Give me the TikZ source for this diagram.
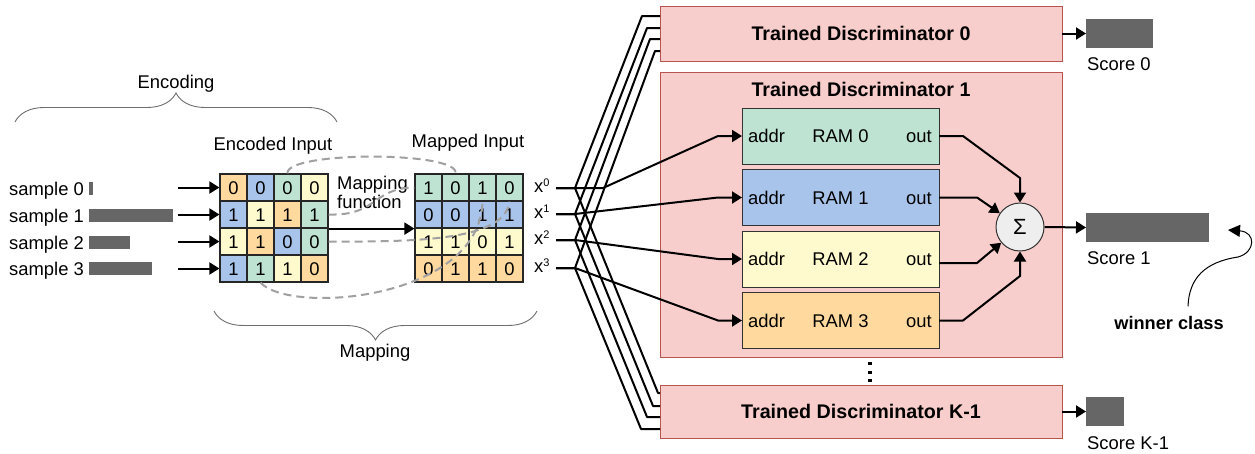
\documentclass[tikz,border=0pt]{standalone}
\usepackage{fontspec}
\setmainfont{Liberation Sans}
\usetikzlibrary{arrows.meta,decorations.pathreplacing}

\definecolor{cG}{RGB}{190,227,210}
\definecolor{cB}{RGB}{169,196,235}
\definecolor{cY}{RGB}{255,250,205}
\definecolor{cO}{RGB}{255,217,158}
\definecolor{discfill}{RGB}{248,206,204}
\definecolor{discline}{RGB}{184,84,80}
\definecolor{bargray}{RGB}{102,102,102}
\definecolor{dashgray}{RGB}{160,160,160}
\definecolor{bracegray}{RGB}{110,110,110}
\definecolor{sigfill}{RGB}{238,238,238}

\newcommand\fs{\fontsize{18.4}{22}\selectfont}
\newcommand\fbold{\fontsize{19.7}{23}\selectfont\bfseries}
\newcommand\supx[1]{x\raisebox{6pt}{\fontsize{11}{11}\selectfont #1}}

\begin{document}
\begin{tikzpicture}[x=1pt,y=-1pt,
  txt/.style={font=\fs,inner sep=0pt,text height=13pt,text depth=0pt},
  cell/.style={txt,draw=black!85,line width=1.2pt,minimum size=27pt},
  bar/.style={fill=bargray,draw=none,inner sep=0pt,outer sep=0pt},
  disc/.style={draw=discline,fill=discfill,line width=1pt,outer sep=0pt,inner sep=0pt,
               font=\fbold,text height=14pt,text depth=0pt},
  ram/.style={draw=black!80,line width=1pt,outer sep=0pt,inner sep=0pt,
              minimum width=197pt,minimum height=56pt,font=\fs,text height=13pt,text depth=0pt},
  wire/.style={line width=2pt,line join=round},
  arr/.style={-{Triangle[length=10pt,width=12pt]}},
  mapdash/.style={dashgray,line width=2pt,dash pattern=on 8pt off 5pt},
  curly/.style={bracegray,line width=0.9pt,decorate,decoration={brace,amplitude=29pt}},
  dotmark/.style={fill=black,minimum width=4pt,minimum height=3pt,inner sep=0pt}
]
\useasboundingbox (0,0) rectangle (1255,453);
\fill[white] (0,0) rectangle (1255,453);

% ---------- samples ----------
\foreach \i/\y in {0/189,1/216,2/243,3/269}
  \node[txt,anchor=west] (smp\i) at (9,\y) {sample \i};
\node[bar,minimum width=4pt,minimum height=13pt]  (bar0) at (91,188) {};
\node[bar,minimum width=84pt,minimum height=13pt] (bar1) at (131,215.5) {};
\node[bar,minimum width=41pt,minimum height=13pt] (bar2) at (109.5,242.5) {};
\node[bar,minimum width=63pt,minimum height=13pt] (bar3) at (120.5,268.5) {};

% ---------- encoded input grid ----------
\foreach \col/\v [count=\c from 0] in {cO/0,cB/0,cG/0,cY/0}
  \node[cell,fill=\col] (e0\c) at ({233.5+27*\c},187.5) {\v};
\foreach \col/\v [count=\c from 0] in {cB/1,cY/1,cO/1,cG/1}
  \node[cell,fill=\col] (e1\c) at ({233.5+27*\c},214.5) {\v};
\foreach \col/\v [count=\c from 0] in {cY/1,cO/1,cB/0,cG/0}
  \node[cell,fill=\col] (e2\c) at ({233.5+27*\c},241.5) {\v};
\foreach \col/\v [count=\c from 0] in {cB/1,cG/1,cY/1,cO/0}
  \node[cell,fill=\col] (e3\c) at ({233.5+27*\c},268.5) {\v};

% ---------- mapped input grid ----------
\foreach \v [count=\c from 0] in {1,0,1,0}
  \node[cell,fill=cG] (m0\c) at ({428.5+27*\c},187.5) {\v};
\foreach \v [count=\c from 0] in {0,0,1,1}
  \node[cell,fill=cB] (m1\c) at ({428.5+27*\c},214.5) {\v};
\foreach \v [count=\c from 0] in {1,1,0,1}
  \node[cell,fill=cY] (m2\c) at ({428.5+27*\c},241.5) {\v};
\foreach \v [count=\c from 0] in {0,1,1,0}
  \node[cell,fill=cO] (m3\c) at ({428.5+27*\c},268.5) {\v};

% input arrows into the encoded rows
\foreach \r/\y in {0/187.5,1/214.5,2/241.5,3/268.5} {
  \coordinate (in\r) at (178,\y);
  \draw[wire,arr] (in\r) -- (e\r0.west);
}

% ---------- labels and braces ----------
\node[txt] (enclbl) at (176,81.5) {Encoding};
\node[txt] (maplbl) at (375,351) {Mapping};
\node[txt] (enctitle) at (273,144) {Encoded Input};
\node[txt] (maptitle) at (468,141) {Mapped Input};
\node[txt,anchor=west] (mf1) at (337,183) {Mapping};
\node[txt,anchor=west] (mf2) at (337,202) {function};

\draw[curly] (15,122) -- (337,122);
\draw[curly] (537,311) -- (214,311);

% mapping arrow
\draw[wire,arr] (e13.south east) -- (m10.south west);

% mapping function (dashed routes)
\draw[mapdash] (e02.north) .. controls (285,151) and (460,151) .. (m01.north);
\draw[mapdash] (e13.east) .. controls (378,216) and (372,188) .. (m00.west);
\draw[mapdash] (e23.east) .. controls (420,242) and (505,240) .. (m03.south);
\draw[mapdash] (e31.south) .. controls (290,315) and (480,300) .. (m02.south);

% ---------- mapped outputs x^i ----------
\foreach \i/\y in {0/188,1/214,2/240,3/268} {
  \node[txt,anchor=west] (x\i) at (534,{\y-1.8}) {\supx{\i}};
  \coordinate (xo\i) at (556,\y);
  \coordinate (br\i) at (575,\y);
}

% ---------- discriminators ----------
\node[disc,minimum width=402pt,minimum height=55pt] (d0) at (861,33.5) {Trained Discriminator 0};
\node[disc,minimum width=402pt,minimum height=285pt] (d1) at (861,214.5) {};
\node[disc,fill=none,draw=none] (d1title) at (861,89) {Trained Discriminator 1};
\node[disc,minimum width=402pt,minimum height=53pt] (dk) at (861,411.5) {Trained Discriminator K-1};

\foreach \k/\yy in {0/363.3,1/372,2/380.3}
  \node[dotmark] (dot\k) at (870,\yy) {};

% fan-out to discriminator 0 and K-1
\foreach \i/\cx/\cy in {0/642/16,1/647/28,2/650/39,3/655/51}
  \draw[wire] (xo\i) -- (br\i) -- (\cx,\cy) -- (d0.west |- 0,\cy);
\foreach \i/\cx/\cy in {0/658/393,1/653/406,2/647/417,3/641/429}
  \draw[wire] (xo\i) -- (br\i) -- (\cx,\cy) -- (dk.west |- 0,\cy);

% ---------- RAMs ----------
\foreach \i/\col/\y in {0/cG/136,1/cB/197.5,2/cY/259,3/cO/320.5} {
  \node[ram,fill=\col] (ram\i) at (840.5,\y) {RAM \i};
  \node[txt,anchor=west] (addr\i) at (748,\y) {addr};
  \node[txt,anchor=east] (out\i) at (932,\y) {out};
}

\draw[wire,arr] (xo0) -- (603,188) -- (718,136) -- (ram0.west);
\draw[wire,arr] (xo1) -- (br1) -- (718,197.5) -- (ram1.west);
\draw[wire,arr] (xo2) -- (br2) -- (718,259) -- (ram2.west);
\draw[wire,arr] (xo3) -- (br3) -- (718,320.5) -- (ram3.west);

% ---------- summation ----------
\node[draw=black!80,fill=sigfill,circle,minimum size=48pt,inner sep=0pt,line width=1pt,
      font=\fontsize{22}{22}\selectfont] (sig) at (1020,227) {Σ};

\draw[wire,arr] (ram0.east) -- (963,136) -- (1020,178) -- (sig.north);
\draw[wire,arr] (ram1.east) -- (977,197.5) -- (sig);
\draw[wire,arr] ([yshift=-4pt]ram2.east) -- (977,263) -- (sig);
\draw[wire,arr] (ram3.east) -- (963,320.5) -- (1020,276) -- (sig.south);

% ---------- scores ----------
\node[bar,minimum width=67pt,minimum height=29pt]  (sc0) at (1119.5,33.5) {};
\node[bar,minimum width=123pt,minimum height=29pt] (sc1) at (1147.5,227.5) {};
\node[bar,minimum width=38pt,minimum height=29pt]  (sck) at (1105,411.5) {};
\node[txt,anchor=west] (sc0lbl) at (1087,64) {Score 0};
\node[txt,anchor=west] (sc1lbl) at (1087,258) {Score 1};
\node[txt,anchor=west] (scklbl) at (1087,443) {Score K-1};

\draw[wire,arr] (d0.east) -- (sc0.west);
\draw[wire,arr] (sig.east) -- (sc1.west);
\draw[wire,arr] (dk.east) -- (sck.west);

% ---------- winner ----------
\node[font=\fontsize{18.2}{22}\selectfont\bfseries,inner sep=0pt,text height=13pt,text depth=0pt]
  (win) at (1169,323) {winner class};
\coordinate (wtip) at (1228,230);
\draw[line width=1pt,-{Triangle[length=12pt,width=12pt]}]
  ([xshift=19pt,yshift=10pt]win.north) .. controls (1189,278) and (1205,262) .. (1238,257)
  .. controls (1256,252) and (1256,232) .. (wtip);
\end{tikzpicture}
\end{document}
